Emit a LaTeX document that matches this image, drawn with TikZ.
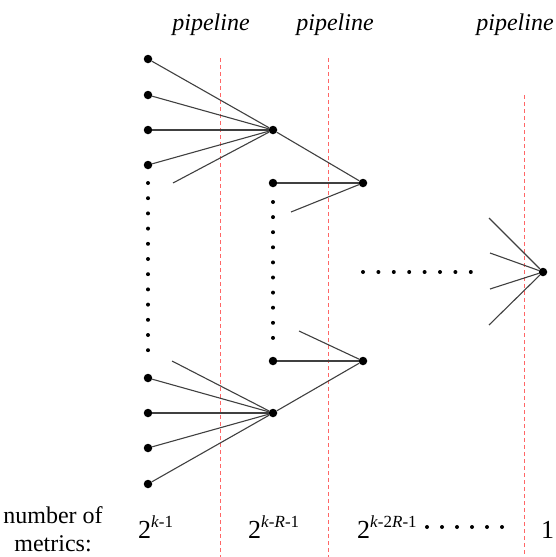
\documentclass[tikz,border=0pt]{standalone}
\usepackage{fontspec}
\setmainfont{Liberation Serif}
\newcommand{\mSup}[1]{\raisebox{0.42em}{\fontsize{17}{18}\selectfont #1}}
\tikzset{
  bigdot/.style={circle, fill=black, inner sep=0pt, minimum size=8.5pt},
  smalldot/.style={circle, fill=black, inner sep=0pt, minimum size=4pt},
  edge/.style={draw=black!75, line width=1.1pt},
  stage/.style={draw=red!60, dash pattern=on 4pt off 3pt, line width=1pt},
  lbl/.style={inner sep=0pt, font=\fontsize{24}{28}\selectfont},
  count/.style={inner sep=0pt, anchor=base west, font=\fontsize{26}{30}\selectfont},
}

\begin{document}
\begin{tikzpicture}[x=1pt,y=-1pt]
\useasboundingbox (0,0) rectangle (555,557);
% pipeline stages
\node[lbl, anchor=base, font=\fontsize{24}{28}\selectfont\itshape] (pipeA) at (211,30) {pipeline};
\node[lbl, anchor=base, font=\fontsize{24}{28}\selectfont\itshape] (pipeB) at (335,30) {pipeline};
\node[lbl, anchor=base, font=\fontsize{24}{28}\selectfont\itshape] (pipeC) at (515,30) {pipeline};
\coordinate (stageAtop) at (220,58);  \coordinate (stageAbot) at (220,557);
\coordinate (stageBtop) at (328,58);  \coordinate (stageBbot) at (328,557);
\coordinate (stageCtop) at (524,95);  \coordinate (stageCbot) at (524,557);
\draw[stage] (stageAtop) -- (stageAbot);
\draw[stage] (stageBtop) -- (stageBbot);
\draw[stage] (stageCtop) -- (stageCbot);
% first column of metrics
\node[bigdot] (a1) at (148,59) {};
\node[bigdot] (a2) at (148,95) {};
\node[bigdot] (a3) at (148,130) {};
\node[bigdot] (a4) at (148,165) {};
\foreach \i in {0,...,11}
  \node[smalldot] (am\i) at (148,183+15.2*\i) {};
\node[bigdot] (b1) at (148,378) {};
\node[bigdot] (b2) at (148,413) {};
\node[bigdot] (b3) at (148,448) {};
\node[bigdot] (b4) at (148,484) {};
% second column
\node[bigdot] (hubA) at (273,130) {};
\node[bigdot] (hubB) at (273,413) {};
\node[bigdot] (c1) at (273,183) {};
\foreach \i in {0,...,9}
  \node[smalldot] (cm\i) at (273,202+15.1*\i) {};
\node[bigdot] (c2) at (273,361) {};
% third column
\node[bigdot] (hubC) at (363,183) {};
\node[bigdot] (hubD) at (363,361) {};
\foreach \i in {0,...,7}
  \node[smalldot] (gm\i) at (363+15.4*\i,272) {};
\node[bigdot] (hubE) at (543,272) {};
% loose ends
\coordinate (stubA) at (173,183);
\coordinate (stubB) at (172,361);
\coordinate (stubC) at (291,212);
\coordinate (stubD) at (299,331);
\coordinate (stubE1) at (489,218);
\coordinate (stubE2) at (490,253);
\coordinate (stubE3) at (490,289);
\coordinate (stubE4) at (489,325);
% connections
\foreach \n in {a1,a2,a3,a4,stubA}
  \draw[edge] (\n) -- (hubA);
\foreach \n in {b1,b2,b3,b4,stubB}
  \draw[edge] (\n) -- (hubB);
\draw[edge] (hubA) -- (hubC);
\draw[edge] (c1) -- (hubC);
\draw[edge] (stubC) -- (hubC);
\draw[edge] (hubB) -- (hubD);
\draw[edge] (c2) -- (hubD);
\draw[edge] (stubD) -- (hubD);
\foreach \n in {stubE1,stubE2,stubE3,stubE4}
  \draw[edge] (\n) -- (hubE);
% number of metrics
\node[lbl, align=center] (metricsLbl) at (53,529) {number of\\metrics:};
\node[count] (cntA) at (138,538) {2\mSup{\textit{k}-1}};
\node[count] (cntB) at (248,538) {2\mSup{\textit{k}-\textit{R}-1}};
\node[count] (cntC) at (357,538) {2\mSup{\textit{k}-2\textit{R}-1}};
\foreach \i in {0,...,5}
  \node[smalldot] (dm\i) at (427+15*\i,527) {};
\node[count] (cntD) at (541,538) {1};
\end{tikzpicture}
\end{document}
